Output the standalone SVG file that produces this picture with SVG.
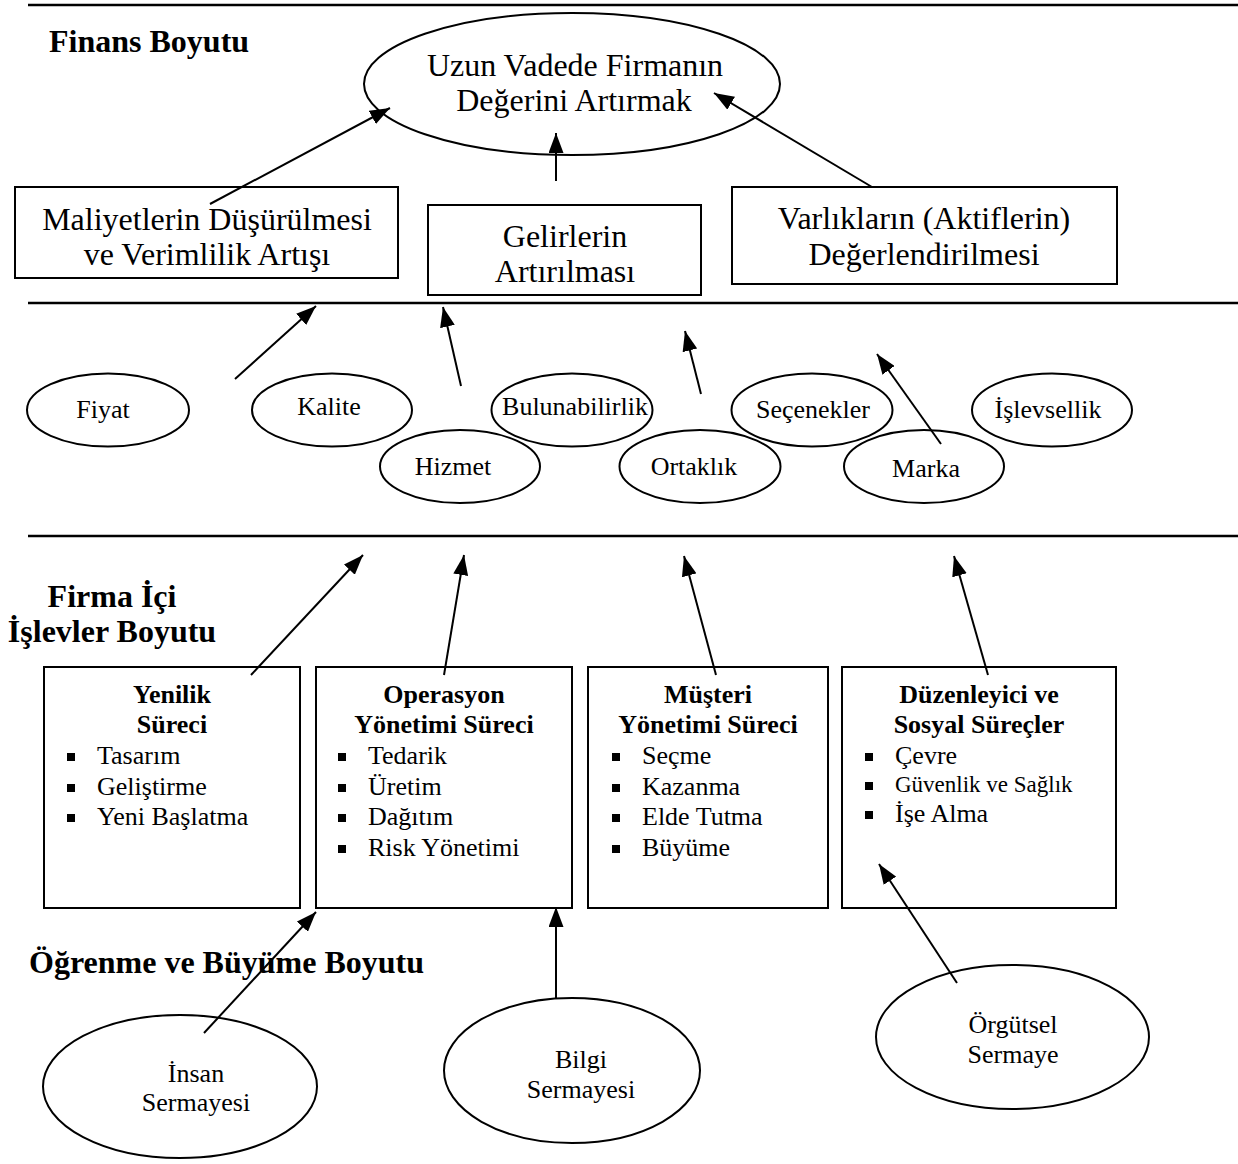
<svg xmlns="http://www.w3.org/2000/svg" width="1238" height="1164" viewBox="0 0 1238 1164">
<style>
text{font-family:"Liberation Serif","Times New Roman",serif;fill:#000}
.h{font-weight:bold;font-size:32px}
.big{font-size:32px;text-anchor:middle}
.lbl{font-size:26px;text-anchor:middle}
.tt{font-weight:bold;font-size:26px;text-anchor:middle}
.it{font-size:26px}
.sm{font-size:23px}
.shape{fill:#fff;stroke:#000;stroke-width:2}
.div{stroke:#000;stroke-width:2.5}
.con{stroke:#000;stroke-width:2;fill:none;marker-end:url(#ah)}
.bul{fill:#000}
</style>
<defs>
<marker id="ah" markerWidth="20" markerHeight="15" refX="20" refY="7.5" orient="auto" markerUnits="userSpaceOnUse"><path d="M0,0 L20,7.5 L0,15 z" fill="#000"/></marker>
</defs>
<rect width="1238" height="1164" fill="#fff"/>
<g id="dividers">
<line class="div" x1="28" y1="5" x2="1238" y2="5"/>
<line class="div" x1="28" y1="303" x2="1238" y2="303"/>
<line class="div" x1="28" y1="536" x2="1238" y2="536"/>
</g>
<g id="headings">
<text class="h" x="49" y="52">Finans Boyutu</text>
<text class="h" x="112" y="607" text-anchor="middle">Firma İçi</text>
<text class="h" x="112" y="642" text-anchor="middle">İşlevler Boyutu</text>
<text class="h" x="29" y="973">Öğrenme ve Büyüme Boyutu</text>
</g>
<g id="n-uzun">
<ellipse class="shape" cx="572" cy="84" rx="208" ry="71"/>
<text class="big" x="575" y="76">Uzun Vadede Firmanın</text>
<text class="big" x="574" y="111">Değerini Artırmak</text>
</g>
<g id="n-maliyet">
<rect class="shape" x="15" y="187" width="383" height="91"/>
<text class="big" x="207" y="230">Maliyetlerin Düşürülmesi</text>
<text class="big" x="207" y="265">ve Verimlilik Artışı</text>
</g>
<g id="n-gelir">
<rect class="shape" x="428" y="205" width="273" height="90"/>
<text class="big" x="565" y="247">Gelirlerin</text>
<text class="big" x="565" y="282">Artırılması</text>
</g>
<g id="n-varlik">
<rect class="shape" x="732" y="187" width="385" height="97"/>
<text class="big" x="924" y="229">Varlıkların (Aktiflerin)</text>
<text class="big" x="924" y="265">Değerlendirilmesi</text>
</g>
<g id="n-fiyat"><ellipse class="shape" cx="108" cy="410" rx="81" ry="36.5"/><text class="lbl" x="103" y="418">Fiyat</text></g>
<g id="n-kalite"><ellipse class="shape" cx="332" cy="410" rx="80" ry="36.5"/><text class="lbl" x="329" y="415">Kalite</text></g>
<g id="n-hizmet"><ellipse class="shape" cx="460" cy="466.5" rx="80" ry="36.5"/><text class="lbl" x="453" y="475">Hizmet</text></g>
<g id="n-bulun"><ellipse class="shape" cx="572" cy="410" rx="80.5" ry="36.5"/><text class="lbl" x="575" y="415">Bulunabilirlik</text></g>
<g id="n-ortak"><ellipse class="shape" cx="700" cy="466.5" rx="80.5" ry="36.5"/><text class="lbl" x="694" y="475">Ortaklık</text></g>
<g id="n-secenek"><ellipse class="shape" cx="812" cy="410" rx="80.5" ry="36.5"/><text class="lbl" x="813" y="418">Seçenekler</text></g>
<g id="n-marka"><ellipse class="shape" cx="924" cy="466.5" rx="80" ry="36.5"/><text class="lbl" x="926" y="477">Marka</text></g>
<g id="n-islev"><ellipse class="shape" cx="1052" cy="410" rx="80" ry="36.5"/><text class="lbl" x="1048" y="418">İşlevsellik</text></g>
<g id="n-yenilik">
<rect class="shape" x="44" y="667" width="256" height="241"/>
<text class="tt" x="172" y="703">Yenilik</text>
<text class="tt" x="172" y="733">Süreci</text>
<rect class="bul" x="67" y="753" width="8" height="8"/><text class="it" x="97" y="764">Tasarım</text>
<rect class="bul" x="67" y="784" width="8" height="8"/><text class="it" x="97" y="795">Geliştirme</text>
<rect class="bul" x="67" y="814" width="8" height="8"/><text class="it" x="97" y="825">Yeni Başlatma</text>
</g>
<g id="n-operasyon">
<rect class="shape" x="316" y="667" width="256" height="241"/>
<text class="tt" x="444" y="703">Operasyon</text>
<text class="tt" x="444" y="733">Yönetimi Süreci</text>
<rect class="bul" x="338" y="753" width="8" height="8"/><text class="it" x="368" y="764">Tedarik</text>
<rect class="bul" x="338" y="784" width="8" height="8"/><text class="it" x="368" y="795">Üretim</text>
<rect class="bul" x="338" y="814" width="8" height="8"/><text class="it" x="368" y="825">Dağıtım</text>
<rect class="bul" x="338" y="845" width="8" height="8"/><text class="it" x="368" y="856">Risk Yönetimi</text>
</g>
<g id="n-musteri">
<rect class="shape" x="588" y="667" width="240" height="241"/>
<text class="tt" x="708" y="703">Müşteri</text>
<text class="tt" x="708" y="733">Yönetimi Süreci</text>
<rect class="bul" x="612" y="753" width="8" height="8"/><text class="it" x="642" y="764">Seçme</text>
<rect class="bul" x="612" y="784" width="8" height="8"/><text class="it" x="642" y="795">Kazanma</text>
<rect class="bul" x="612" y="814" width="8" height="8"/><text class="it" x="642" y="825">Elde Tutma</text>
<rect class="bul" x="612" y="845" width="8" height="8"/><text class="it" x="642" y="856">Büyüme</text>
</g>
<g id="n-duzen">
<rect class="shape" x="842" y="667" width="274" height="241"/>
<text class="tt" x="979" y="703">Düzenleyici ve</text>
<text class="tt" x="979" y="733">Sosyal Süreçler</text>
<rect class="bul" x="865" y="753" width="8" height="8"/><text class="it" x="895" y="764">Çevre</text>
<rect class="bul" x="865" y="782" width="8" height="8"/><text class="sm" x="895" y="792">Güvenlik ve Sağlık</text>
<rect class="bul" x="865" y="811" width="8" height="8"/><text class="it" x="895" y="822">İşe Alma</text>
</g>
<g id="n-insan">
<ellipse class="shape" cx="180" cy="1086.5" rx="137" ry="71.5"/>
<text class="lbl" x="196" y="1082">İnsan</text>
<text class="lbl" x="196" y="1111">Sermayesi</text>
</g>
<g id="n-bilgi">
<ellipse class="shape" cx="572" cy="1070.5" rx="128" ry="72.5"/>
<text class="lbl" x="581" y="1068">Bilgi</text>
<text class="lbl" x="581" y="1098">Sermayesi</text>
</g>
<g id="n-orgut">
<ellipse class="shape" cx="1012.5" cy="1037" rx="136.5" ry="72"/>
<text class="lbl" x="1013" y="1033">Örgütsel</text>
<text class="lbl" x="1013" y="1063">Sermaye</text>
</g>
<g id="connectors">
<line class="con" x1="210" y1="204" x2="390" y2="108"/>
<line class="con" x1="556" y1="181" x2="556" y2="133"/>
<line class="con" x1="872" y1="187" x2="714" y2="93"/>
<line class="con" x1="235" y1="379" x2="316" y2="306"/>
<line class="con" x1="461" y1="386" x2="443" y2="307"/>
<line class="con" x1="701" y1="394" x2="685" y2="331"/>
<line class="con" x1="941" y1="444" x2="877" y2="354"/>
<line class="con" x1="251" y1="675" x2="363" y2="555"/>
<line class="con" x1="444" y1="675" x2="464" y2="555"/>
<line class="con" x1="716" y1="675" x2="684" y2="556"/>
<line class="con" x1="988" y1="675" x2="954" y2="556"/>
<line class="con" x1="204" y1="1033" x2="316" y2="912"/>
<line class="con" x1="556" y1="998" x2="556" y2="907"/>
<line class="con" x1="957" y1="983" x2="879" y2="864"/>
</g>
</svg>
